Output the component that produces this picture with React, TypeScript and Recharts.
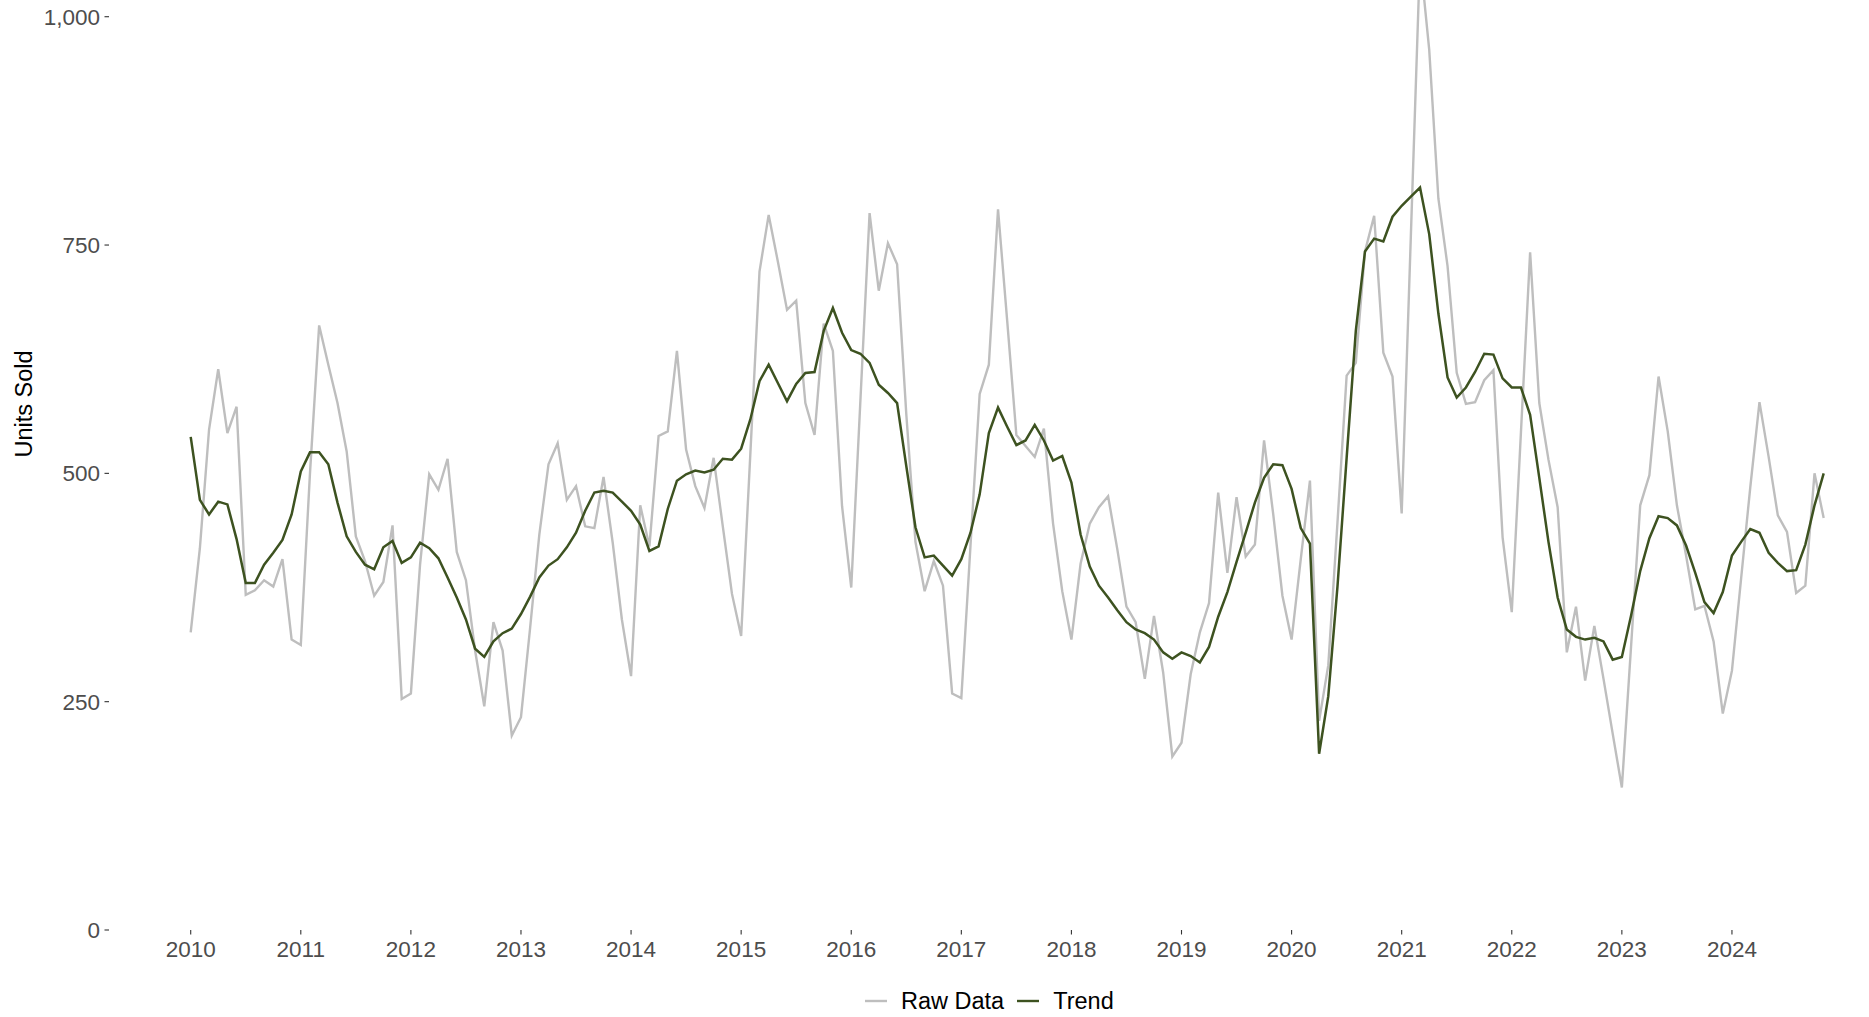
import { LineChart, Line, XAxis, YAxis, Legend, Label } from "recharts";

// monthly series, Jan 2010 .. Nov 2024
const startYear = 2010;

const yearTicks = [
  2010, 2011, 2012, 2013, 2014, 2015, 2016, 2017, 2018, 2019, 2020, 2021, 2022,
  2023, 2024,
];

const unitTicks = [0, 250, 500, 750, 1000];

const rawUnits = [
  326, 418, 548, 614, 544, 573, 367, 372, 383, 376, 406, 318, // 2010
  312, 500, 662, 619, 577, 524, 431, 404, 366, 381, 443, 253, // 2011
  259, 400, 499, 482, 516, 414, 383, 306, 245, 337, 306, 213, // 2012
  233, 331, 433, 510, 533, 471, 486, 442, 440, 496, 424, 340, // 2013
  278, 465, 420, 541, 546, 634, 526, 486, 462, 517, 442, 368, // 2014
  322, 521, 721, 783, 732, 679, 689, 577, 542, 664, 634, 464, // 2015
  375, 580, 785, 700, 752, 729, 565, 425, 371, 404, 377, 259, // 2016
  254, 421, 587, 619, 789, 667, 542, 530, 518, 549, 445, 371, // 2017
  318, 401, 445, 463, 475, 417, 354, 337, 275, 344, 282, 190, // 2018
  205, 280, 326, 358, 479, 391, 474, 409, 422, 536, 455, 366, // 2019
  318, 406, 492, 229, 290, 446, 607, 621, 743, 782, 632, 606, // 2020
  456, 760, 1065, 964, 801, 727, 610, 576, 578, 602, 613, 430, // 2021
  348, 545, 742, 577, 515, 463, 304, 354, 273, 333, 275, 215, // 2022
  156, 310, 465, 498, 606, 546, 465, 410, 351, 355, 316, 237, // 2023
  284, 385, 485, 578, 518, 454, 436, 369, 377, 500, 451, // 2024
];

const trendUnits = [
  540, 471, 455, 469, 466, 428, 380, 380, 400, 413, 427, 455, // 2010
  502, 523, 523, 510, 468, 431, 414, 400, 395, 419, 426, 402, // 2011
  408, 424, 418, 407, 386, 364, 340, 308, 299, 316, 325, 330, // 2012
  346, 365, 386, 399, 406, 419, 435, 459, 479, 481, 479, 469, // 2013
  459, 444, 415, 420, 461, 492, 499, 503, 501, 504, 516, 515, // 2014
  527, 559, 601, 619, 599, 579, 598, 610, 611, 656, 681, 654, // 2015
  635, 631, 621, 597, 588, 577, 508, 441, 408, 410, 399, 388, // 2016
  406, 435, 477, 544, 572, 551, 531, 536, 553, 536, 514, 519, // 2017
  490, 433, 398, 377, 364, 350, 337, 329, 325, 318, 304, 297, // 2018
  304, 300, 293, 310, 343, 370, 403, 435, 468, 495, 510, 509, // 2019
  483, 440, 423, 193, 256, 376, 517, 656, 743, 757, 754, 781, // 2020
  793, 803, 813, 762, 675, 605, 583, 594, 611, 631, 630, 604, // 2021
  594, 594, 564, 495, 425, 364, 329, 321, 318, 320, 316, 296, // 2022
  299, 344, 393, 429, 453, 451, 443, 421, 391, 359, 347, 370, // 2023
  410, 425, 439, 435, 413, 402, 393, 394, 422, 465, 500, // 2024
];

const chartData = rawUnits.map((raw, i) => ({
  t: startYear + i / 12,
  raw,
  trend: trendUnits[i],
}));

const FONT = '"Liberation Sans", Arial, Helvetica, sans-serif';
const RAW_COLOR = "#BEBEBE";
const TREND_COLOR = "#3D5220";

function LegendKeys() {
  const items = [
    { name: "Raw Data", color: RAW_COLOR },
    { name: "Trend", color: TREND_COLOR },
  ];
  return (
    <div
      style={{
        display: "flex",
        alignItems: "center",
        fontFamily: FONT,
        fontSize: 23.5,
        color: "#000",
        whiteSpace: "nowrap",
      }}
    >
      {items.map((it, idx) => (
        <div
          key={it.name}
          style={{
            display: "flex",
            alignItems: "center",
            marginRight: idx === 0 ? 13 : 0,
          }}
        >
          <svg width={22} height={4} style={{ marginRight: 14 }}>
            <line x1={0} y1={2} x2={22} y2={2} stroke={it.color} strokeWidth={2.4} />
          </svg>
          <span>{it.name}</span>
        </div>
      ))}
    </div>
  );
}

export default function App() {
  return (
    <div style={{ position: "absolute", left: 0, top: 0, background: "#fff" }}>
      <LineChart
        width={1869}
        height={1017}
        data={chartData}
        margin={{ top: 0, right: 0, bottom: 0, left: 0 }}
      >
        <XAxis
          dataKey="t"
          type="number"
          domain={[2009.2578, 2025.2449]}
          allowDataOverflow
          ticks={yearTicks}
          interval={0}
          tickFormatter={(v) => String(Math.round(v))}
          height={87}
          axisLine={false}
          tickSize={4.5}
          tickMargin={6.8}
          tickLine={{ stroke: "#333333", strokeWidth: 1.1 }}
          tick={{ fill: "#4D4D4D", fontSize: 22.5, fontFamily: FONT }}
        />
        <YAxis
          type="number"
          domain={[0, 1018.3]}
          allowDataOverflow
          ticks={unitTicks}
          interval={0}
          tickFormatter={(v) => Number(v).toLocaleString("en-US")}
          width={109}
          axisLine={false}
          tickSize={4.5}
          tickMargin={4.5}
          tickLine={{ stroke: "#333333", strokeWidth: 1.1 }}
          tick={{ fill: "#4D4D4D", fontSize: 22.5, fontFamily: FONT }}
        >
          <Label
            content={() => (
              <text
                x={32.3}
                y={404}
                transform="rotate(-90 32.3 404)"
                textAnchor="middle"
                fontSize={23.5}
                fontFamily={FONT}
                fill="#000"
              >
                Units Sold
              </text>
            )}
          />
        </YAxis>
        <Legend
          layout="horizontal"
          verticalAlign="middle"
          align="center"
          content={() => <LegendKeys />}
          wrapperStyle={{ top: 987.5, left: 865, width: "auto" }}
        />
        <Line
          type="linear"
          dataKey="raw"
          name="Raw Data"
          stroke={RAW_COLOR}
          strokeWidth={2.4}
          dot={false}
          activeDot={false}
          isAnimationActive={false}
        />
        <Line
          type="linear"
          dataKey="trend"
          name="Trend"
          stroke={TREND_COLOR}
          strokeWidth={2.5}
          dot={false}
          activeDot={false}
          isAnimationActive={false}
        />
      </LineChart>
    </div>
  );
}
